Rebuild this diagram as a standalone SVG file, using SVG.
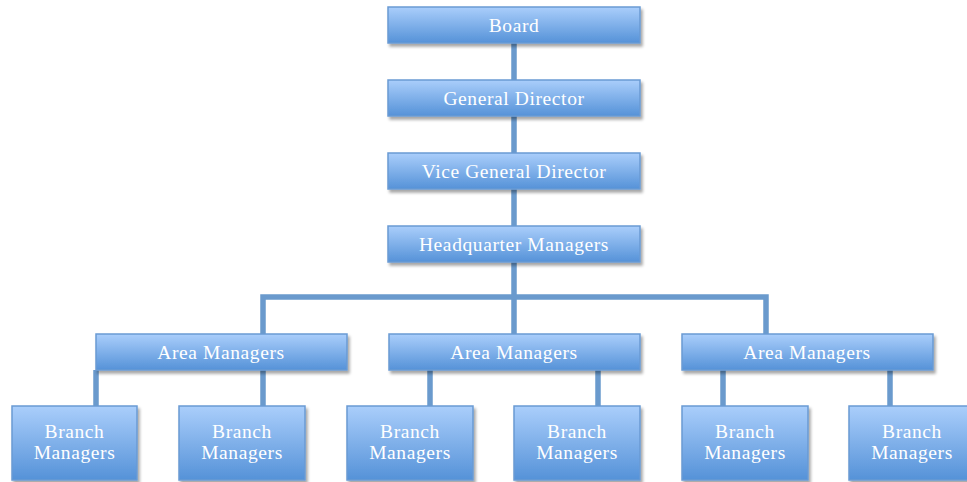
<svg xmlns="http://www.w3.org/2000/svg" width="967" height="482" viewBox="0 0 967 482">
  <defs>
    <linearGradient id="boxFill" x1="0" y1="0" x2="0" y2="1">
      <stop offset="0" stop-color="#aacefb"/>
      <stop offset="1" stop-color="#5592d8"/>
    </linearGradient>
    <filter id="shadow" x="-10%" y="-20%" width="125%" height="150%">
      <feDropShadow dx="2" dy="3" stdDeviation="1.6" flood-color="#000" flood-opacity="0.35"/>
    </filter>
  </defs>
  <style>
    .box { fill: url(#boxFill); stroke: #6a9ad3; stroke-width: 1.5; filter: url(#shadow); }
    .label { font-family: "Liberation Serif", "Times New Roman", serif; font-size: 19.5px; letter-spacing: 0.6px; fill: #ffffff; text-anchor: middle; }
    .link { fill: none; stroke: #6a9acd; stroke-width: 5.5; }
  </style>
  <rect width="967" height="482" fill="#ffffff"/>

  <!-- connectors -->
  <g id="connectors">
    <path class="link" d="M514 43 V80 M514 116 V153 M514 189 V226 M514 262 V334"/>
    <path class="link" d="M263 334 V297 H766 V334"/>
    <path class="link" d="M96 370 V406 M263 370 V406"/>
    <path class="link" d="M430 370 V406 M598 370 V406"/>
    <path class="link" d="M723 370 V406 M890 370 V406"/>
  </g>

  <!-- top chain -->
  <g id="board">
    <rect class="box" x="388" y="7" width="252" height="36"/>
    <text class="label" x="514" y="32">Board</text>
  </g>
  <g id="general-director">
    <rect class="box" x="388" y="80" width="252" height="36"/>
    <text class="label" x="514" y="105">General Director</text>
  </g>
  <g id="vice-general-director">
    <rect class="box" x="388" y="153" width="252" height="36"/>
    <text class="label" x="514" y="178">Vice General Director</text>
  </g>
  <g id="headquarter-managers">
    <rect class="box" x="388" y="226" width="252" height="36"/>
    <text class="label" x="514" y="251">Headquarter Managers</text>
  </g>

  <!-- area level -->
  <g id="area-1">
    <rect class="box" x="96" y="334" width="251" height="36"/>
    <text class="label" x="221" y="359">Area Managers</text>
  </g>
  <g id="area-2">
    <rect class="box" x="389" y="334" width="251" height="36"/>
    <text class="label" x="514" y="359">Area Managers</text>
  </g>
  <g id="area-3">
    <rect class="box" x="682" y="334" width="251" height="36"/>
    <text class="label" x="807" y="359">Area Managers</text>
  </g>

  <!-- branch level -->
  <g id="branch-1">
    <rect class="box" x="12" y="406" width="125" height="74"/>
    <text class="label" x="74.5" y="438">Branch</text>
    <text class="label" x="74.5" y="459">Managers</text>
  </g>
  <g id="branch-2">
    <rect class="box" x="179" y="406" width="126" height="74"/>
    <text class="label" x="242" y="438">Branch</text>
    <text class="label" x="242" y="459">Managers</text>
  </g>
  <g id="branch-3">
    <rect class="box" x="347" y="406" width="126" height="74"/>
    <text class="label" x="410" y="438">Branch</text>
    <text class="label" x="410" y="459">Managers</text>
  </g>
  <g id="branch-4">
    <rect class="box" x="514" y="406" width="126" height="74"/>
    <text class="label" x="577" y="438">Branch</text>
    <text class="label" x="577" y="459">Managers</text>
  </g>
  <g id="branch-5">
    <rect class="box" x="682" y="406" width="126" height="74"/>
    <text class="label" x="745" y="438">Branch</text>
    <text class="label" x="745" y="459">Managers</text>
  </g>
  <g id="branch-6">
    <rect class="box" x="849" y="406" width="126" height="74"/>
    <text class="label" x="912" y="438">Branch</text>
    <text class="label" x="912" y="459">Managers</text>
  </g>
</svg>
